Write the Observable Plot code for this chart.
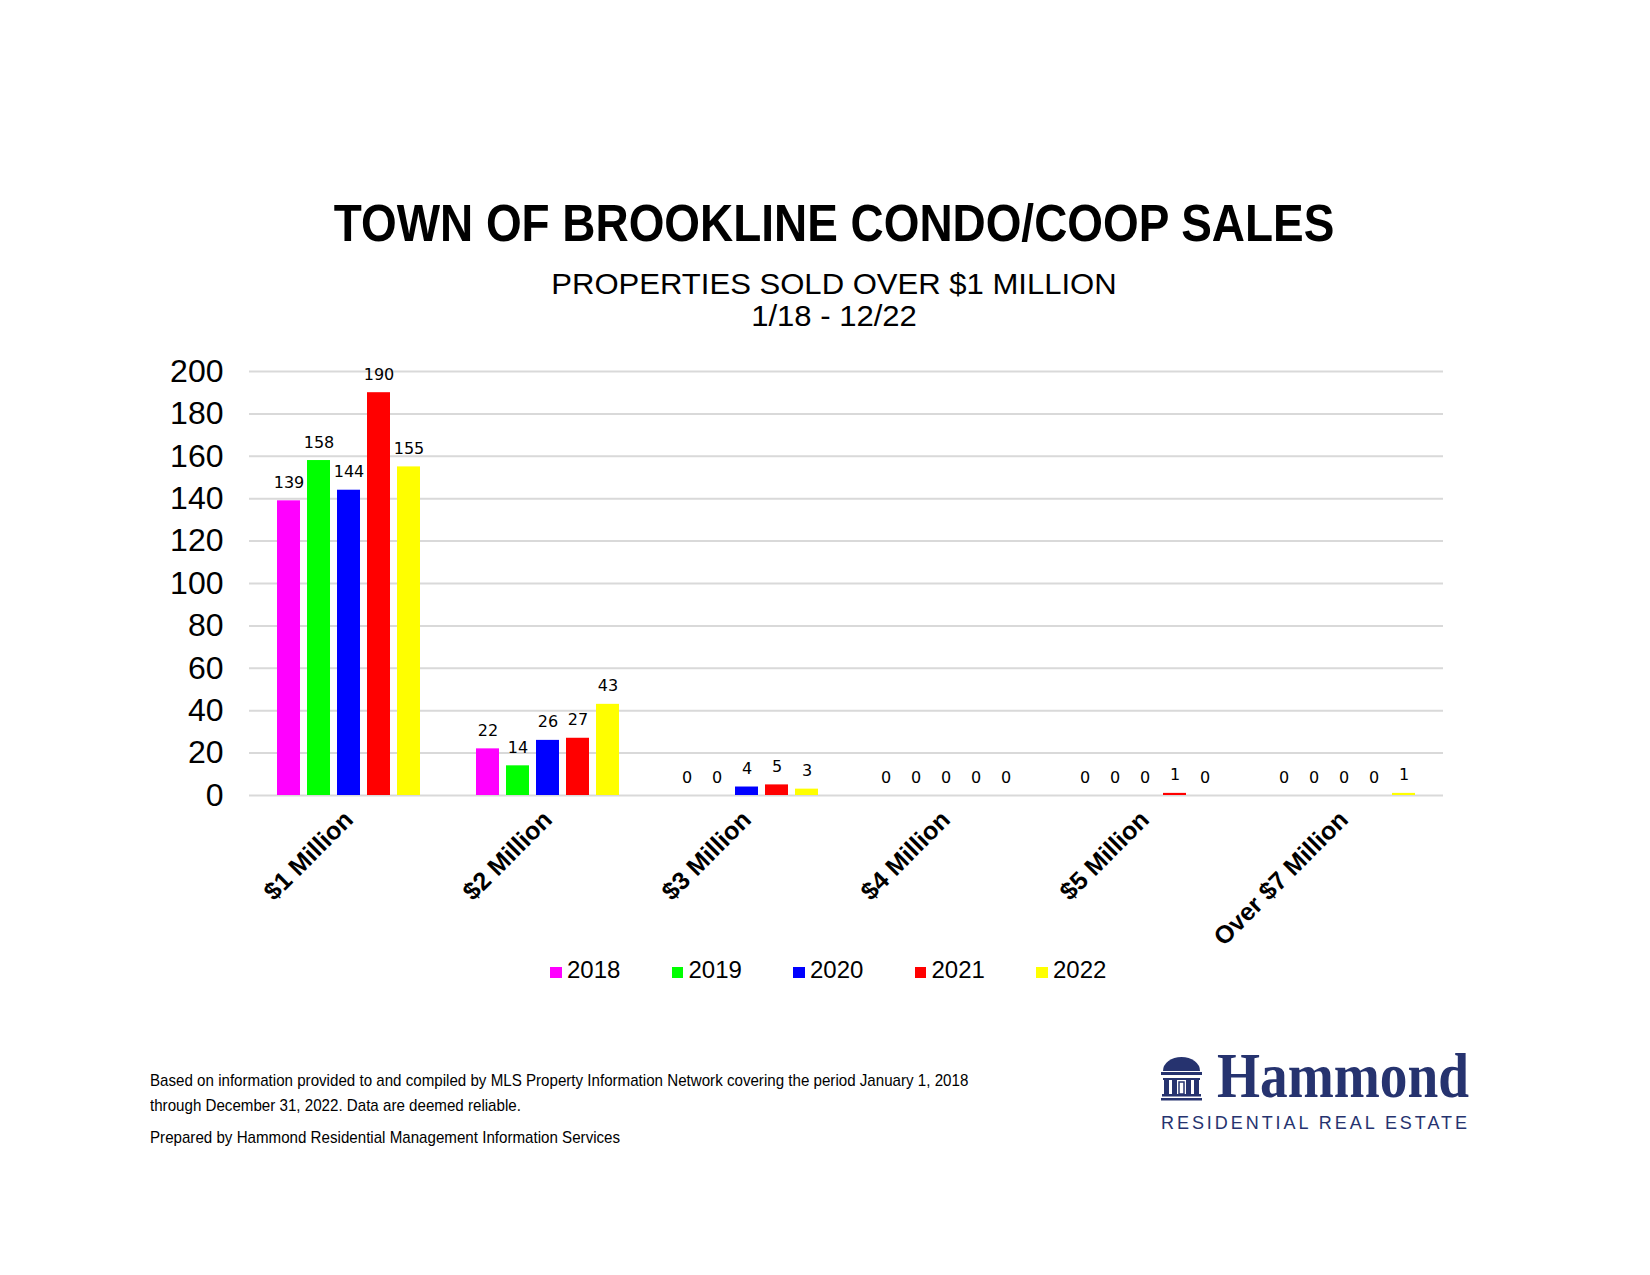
<!DOCTYPE html>
<html>
<head>
<meta charset="utf-8">
<script src="https://cdn.jsdelivr.net/npm/d3@7"></script>
<script src="https://cdn.jsdelivr.net/npm/@observablehq/plot@0.6"></script>
<style>
  body { margin: 0; background: #fff; }
  #page { position: relative; width: 1650px; height: 1275px; overflow: hidden; background: #fff; font-family: "Liberation Sans", Arial, sans-serif; color: #000; }
  .center { position: absolute; left: 834px; white-space: nowrap; text-align: center; }
  #title { top: 198px; font-weight: bold; font-size: 51px; line-height: 51px; transform: translateX(-50%) scaleX(0.9); }
  #subtitle { top: 268px; font-size: 30px; line-height: 32px; transform: translateX(-50%) scaleX(1.035); }
  #chart { position: absolute; left: 0; top: 340px; }
  #legend { position: absolute; left: 550px; top: 958px; display: flex; font-size: 24px; line-height: 24px; }
  .item { width: 121.5px; white-space: nowrap; }
  .sw { display: inline-block; width: 11.5px; height: 11.5px; margin-right: 5.5px; vertical-align: baseline; }
  #notes { position: absolute; left: 150px; top: 1068px; font-size: 17px; line-height: 25px; white-space: nowrap; transform: scaleX(0.89); transform-origin: left top; }
  #notes .gap { height: 7px; }
  #logo { position: absolute; left: 1150px; top: 1015px; }
</style>
</head>
<body>
<div id="page">
  <div id="title" class="center">TOWN OF BROOKLINE CONDO/COOP SALES</div>
  <div id="subtitle" class="center">PROPERTIES SOLD OVER $1 MILLION<br>1/18 - 12/22</div>
  <div id="chart"></div>
  <div id="legend"></div>
  <div id="notes">
    <div>Based on information provided to and compiled by MLS Property Information Network covering the period January 1, 2018</div>
    <div>through December 31, 2022. Data are deemed reliable.</div>
    <div class="gap"></div>
    <div>Prepared by Hammond Residential Management Information Services</div>
  </div>
  <svg id="logo" width="420" height="130" viewBox="0 0 420 130">
    <g fill="#26336f">
      <path d="M13,56 A18.5,14 0 0 1 50,56 Z"/>
      <rect x="11" y="57" width="41" height="3"/>
      <rect x="13" y="63" width="37" height="2"/>
      <rect x="14" y="65" width="5" height="14"/>
      <rect x="22" y="65" width="5" height="14"/>
      <rect x="36" y="65" width="5" height="14"/>
      <rect x="44" y="65" width="5" height="14"/>
      <rect x="29" y="67" width="5" height="12" fill="none" stroke="#26336f" stroke-width="1.5"/>
      <rect x="12" y="79" width="39" height="2.5"/>
      <rect x="11" y="83" width="41" height="2.5"/>
      <text x="67" y="82" font-family="'Liberation Serif','DejaVu Serif',serif" font-weight="bold" font-size="64" textLength="252" lengthAdjust="spacingAndGlyphs">Hammond</text>
      <text x="11" y="114" font-family="'Liberation Sans',Arial,sans-serif" font-size="18" textLength="306" lengthAdjust="spacing">RESIDENTIAL REAL ESTATE</text>
    </g>
  </svg>
</div>
<script>
const categories = ["$1 Million", "$2 Million", "$3 Million", "$4 Million", "$5 Million", "Over $7 Million"];
const years = ["2018", "2019", "2020", "2021", "2022"];
const sales2018 = [139, 22, 0, 0, 0, 0];
const sales2019 = [158, 14, 0, 0, 0, 0];
const sales2020 = [144, 26, 4, 0, 0, 0];
const sales2021 = [190, 27, 5, 0, 1, 0];
const sales2022 = [155, 43, 3, 0, 0, 1];
const yearColors = ["#ff00ff", "#00ff00", "#0000ff", "#ff0000", "#ffff00"];
const yTicks = [0, 20, 40, 60, 80, 100, 120, 140, 160, 180, 200];

const series = [sales2018, sales2019, sales2020, sales2021, sales2022];
const rows = [];
categories.forEach((c, i) => {
  years.forEach((yr, j) => rows.push({category: c, year: yr, value: series[j][i]}));
});

const chart = Plot.plot({
  width: 1650,
  height: 610,
  marginLeft: 248,
  marginRight: 207,
  marginTop: 31,
  marginBottom: 155,
  style: {background: "transparent", overflow: "visible", fontFamily: "'Liberation Sans', Arial, sans-serif", color: "#000"},
  fx: {domain: categories, padding: 0, label: null},
  x: {domain: years, paddingInner: 0.226, paddingOuter: 0.823, axis: null},
  y: {domain: [0, 200]},
  color: {domain: years, range: yearColors},
  marks: [
    Plot.ruleY(yTicks, {stroke: "#d9d9d9", strokeWidth: 2}),
    Plot.barY(rows, {fx: "category", x: "year", y: "value", fill: "year"}),
    Plot.text(rows, {fx: "category", x: "year", y: "value", text: d => String(d.value), dy: -13, lineAnchor: "bottom", fontSize: 16, fontFamily: "'DejaVu Sans', sans-serif", fill: "#000"}),
    Plot.axisY(yTicks, {tickSize: 0, tickPadding: 26, fontSize: 32, label: null, fill: "#000"}),
    Plot.axisFx({anchor: "bottom", tickRotate: -45, tickSize: 0, tickPadding: 20, fontSize: 25, fontWeight: "bold", label: null, fill: "#000"})
  ]
});
document.getElementById("chart").appendChild(chart);

const color = chart.scale("color");
const legend = document.getElementById("legend");
color.domain.forEach((d, i) => {
  const item = document.createElement("div");
  item.className = "item";
  const sw = document.createElement("span");
  sw.className = "sw";
  sw.style.background = color.range[i];
  item.appendChild(sw);
  item.appendChild(document.createTextNode(d));
  legend.appendChild(item);
});
</script>
</body>
</html>
